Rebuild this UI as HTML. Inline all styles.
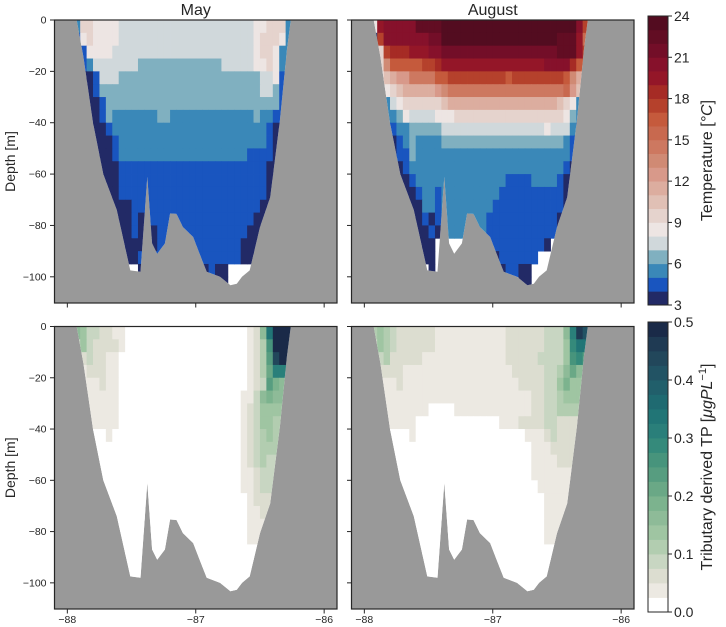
<!DOCTYPE html>
<html><head><meta charset="utf-8">
<style>
html,body{margin:0;padding:0;background:#fff;}
svg{display:block;font-family:"Liberation Sans",Arial,sans-serif;}
</style></head>
<body>
<svg id="fig" width="726" height="627" viewBox="0 0 726 627"></svg>
<script>
// ---- data ----
const R=(c,n)=>c.repeat(n);
const bathyLon = [-87.927,-87.875,-87.80,-87.72,-87.615,-87.51,-87.43,-87.377,-87.34,-87.30,-87.24,-87.20,-87.15,-87.10,-87.02,-86.97,-86.915,-86.81,-86.73,-86.68,-86.64,-86.58,-86.50,-86.42,-86.345,-86.29,-86.26];
const bathyDepth = [0,-14.3,-40,-60,-74,-97.5,-98,-61,-87,-91,-87,-75.3,-75.5,-80.6,-84.5,-91,-98,-100,-103.3,-102.7,-100,-97.5,-80.6,-69,-39,-11.7,0];
const gridLon0 = -87.95, gridDLon = 0.05, gridDDepth = 5;
const tempColors = ["#222a66","#1955bf","#3a88b8","#80b0c0","#d0d8db","#ede5e3","#e5d3cd","#e0c0b5","#dcad9f","#d8998a","#d08a74","#cd7860","#c8694f","#c55a3c","#b5412c","#a62b25","#941628","#86112b","#730e28","#620d23","#530c20"];
const tempTicks = [3,6,9,12,15,18,21,24];
const tpColors = ["#ffffff","#ece9e2","#dcddd0","#c8d6c2","#b2cdb0","#9fc5a2","#8ebb98","#7cb38e","#6aa886","#579d80","#47947c","#358a7b","#2a7f7a","#217576","#1f6a71","#215f6b","#225364","#22475b","#1f3a53","#1a2a48"];
const tpTicks = ["0.0","0.1","0.2","0.3","0.4","0.5"];
const xTicks = [-88,-87,-86];
const yTicks = [0,-20,-40,-60,-80,-100];
const tempMay = [
"2665555"+R("4",21)+"556662",
"1565555"+R("4",21)+"566652",
"115555"+R("4",22)+"566522",
"112"+R("4",7)+R("3",13)+R("4",5)+"556522",
"0001444"+R("3",22)+"44511",
"0001"+R("3",25)+"44311",
"00001"+R("3",27)+"11",
"000013"+R("2",7)+"33"+R("2",13)+"322111",
"000001"+R("2",24)+"1000",
"0000001"+R("2",23)+"1000",
"0000001"+R("2",20)+"1111000",
R("0",7)+R("1",23)+"0000",
R("0",7)+R("1",23)+"0000",
R("0",7)+R("1",23)+"0000",
R("0",9)+R("1",20)+R("0",5),
R("0",9)+"101"+R("1",16)+R("0",6),
R("0",9)+"1000"+R("1",14)+R("0",7),
R("0",13)+R("1",13)+R("0",8),
R("0",10)+R("1",16)+R("0",8),
R(".",10)+R("0",10)+"0100"+R(".",10),
R(".",22)+"00"+R(".",10)
];
const tempAug = [
"5ghhhhhjjjj"+R("k",21)+"he",
"0e"+R("h",7)+"ii"+R("k",18)+"jjjgc",
"16efffggghh"+R("i",18)+"jjjge",
"16addddd"+"eef"+R("g",16)+"hhhhfdd",
"557899bbbbdd"+R("e",9)+"d"+R("e",8)+"da86",
"2256788888"+"9a"+R("b",18)+"c976",
"22245"+R("6",6)+"7"+R("8",17)+"76522",
"222235"+R("4",4)+"555"+R("6",17)+"5322",
"111122"+R("3",5)+R("4",16)+"5444211",
"0000123"+R("2",4)+R("3",19)+"2111",
"0000113"+R("2",24)+"100",
"000001"+R("2",24)+"1000",
"0000001"+R("2",14)+"1111"+"2222"+"1"+"0000",
R("0",7)+"1221"+R("2",9)+R("1",10)+"0000",
R("0",8)+"221"+R("2",8)+R("1",11)+"0000",
R("0",8)+"1012"+R("2",6)+R("1",11)+R("0",5),
R("0",9)+"10"+R("2",7)+R("1",11)+R("0",5),
R("0",10)+R(".",8)+R("1",9)+"0"+R(".",6),
R("0",10)+R(".",9)+"0"+R("1",6)+R(".",8),
R(".",9)+"0"+R(".",10)+"01100"+R(".",9),
R(".",23)+"00"+R(".",9)
];
const tpMay = [
"65332211"+R("0",19)+"126djjj",
"35322221"+R("0",19)+"124ajjj",
"2232211"+R("0",20)+"1249hjj",
"1122211"+R("0",20)+"1248ccc",
"1111211"+R("0",20)+"1239766",
R("1",7)+R("0",19)+"11367666",
R("1",7)+R("0",19)+"12355555",
R("1",7)+R("0",19)+"12355444",
"000001"+R("0",20)+"12345444",
R("0",26)+"12344444",
R("0",26)+"12343333",
R("0",26)+"11233333",
R("0",26)+"11233333",
R("0",27)+"1222222",
R("0",27)+"1122222",
R("0",27)+R("1",7),
R("0",27)+R("1",7),
R("0",34),R("0",34),R("0",34),R("0",34)
];
const tpAug = [
"4543222222"+R("1",11)+R("2",6)+"3336cig",
"3543"+R("2",6)+R("1",11)+R("2",6)+"3335bdd",
"23422222"+R("1",13)+R("2",5)+"33335ab9",
"22222"+R("1",17)+R("2",5)+"3346866",
"11112"+R("1",18)+"2222"+"3357555",
R("1",25)+"223345555",
R("1",9)+"0000"+R("1",12)+"223344444",
R("1",7)+R("0",13)+"111"+"2222"+"33"+"22222",
R("0",6)+"1"+R("0",17)+"111"+"23"+"22222",
R("0",25)+"111"+R("2",6),
R("0",25)+"1111"+R("2",5),
R("0",25)+R("1",9),
R("0",26)+R("1",8),
R("0",27)+R("1",7),
R("0",27)+R("1",7),
R("0",27)+R("1",7),
R("0",27)+R("1",7),
R("0",34),R("0",34),R("0",34),R("0",34)
];
// ---- layout ----
const NS = "http://www.w3.org/2000/svg";
const svg = document.getElementById('fig');
function mk(tag, attrs, parent){const e=document.createElementNS(NS,tag);for(const k in attrs)e.setAttribute(k,attrs[k]);(parent||svg).appendChild(e);return e;}
const xmin=-88.1, xmax=-85.9, ymin=-110.2, ymax=0;
const panels=[
 {x:54.5,y:20,w:282.5,h:283,grid:tempMay,cols:tempColors,name:'panel-may-temperature',title:'May',ylab:true,xlab:false},
 {x:351.5,y:20,w:282.5,h:283,grid:tempAug,cols:tempColors,name:'panel-august-temperature',title:'August',ylab:false,xlab:false},
 {x:54.5,y:326.5,w:282.5,h:282.5,grid:tpMay,cols:tpColors,name:'panel-may-tp',ylab:true,xlab:true},
 {x:351.5,y:326.5,w:282.5,h:282.5,grid:tpAug,cols:tpColors,name:'panel-august-tp',ylab:false,xlab:true}
];
const defs = mk('defs',{});
panels.forEach((p,pi)=>{
  const xs=v=>p.x+(v-xmin)/(xmax-xmin)*p.w;
  const ys=v=>p.y+(ymax-v)/(ymax-ymin)*p.h;
  const g=mk('g',{});
  
  
  const bg=mk('rect',{x:p.x,y:p.y,width:p.w,height:p.h,fill:'#999999'},g);
  
  
  let pts=bathyLon.map((l,i)=>xs(l).toFixed(1)+','+ys(bathyDepth[i]).toFixed(1)).join(' ');
  const cp=mk('clipPath',{id:'water'+pi},defs);
  mk('polygon',{points:pts},cp);
  const water=mk('polygon',{points:pts,fill:'#ffffff'},g);
  
  
  const cg=mk('g',{'clip-path':'url(#water'+pi+')'},g);
  p.grid.forEach((row,i)=>{
    for(let j=0;j<row.length;j++){
      const c=row[j]; if(c==='.')continue;
      const k=parseInt(c,36); if(isNaN(k))continue;
      const x0=xs(gridLon0+gridDLon*j), x1=xs(gridLon0+gridDLon*(j+1));
      const y0=ys(-gridDDepth*i), y1=ys(-gridDDepth*(i+1));
      const r=mk('rect',{x:x0.toFixed(2),y:y0.toFixed(2),width:(x1-x0+0.4).toFixed(2),height:(y1-y0+0.4).toFixed(2),fill:p.cols[Math.min(k,p.cols.length-1)]},cg);
      
      
    }
  });
  const fr=mk('rect',{x:p.x,y:p.y,width:p.w,height:p.h,fill:'none',stroke:'#262626','stroke-width':1.2},g);
  
  
  yTicks.forEach(t=>{
    const y=ys(t);
    mk('line',{x1:p.x-4.5,x2:p.x,y1:y,y2:y,stroke:'#262626','stroke-width':1},g);
    if(p.ylab){
      const tx=mk('text',{x:p.x-8,y:y+3.5,'font-size':10.5,'text-anchor':'end',fill:'#262626'},g);
      tx.textContent=t===0?'0':'\u2212'+Math.abs(t);
      
      
    }
  });
  xTicks.forEach(t=>{
    const x=xs(t);
    mk('line',{x1:x,x2:x,y1:p.y+p.h,y2:p.y+p.h+4.5,stroke:'#262626','stroke-width':1},g);
    if(p.xlab){
      const tx=mk('text',{x:x,y:p.y+p.h+14,'font-size':10.5,'text-anchor':'middle',fill:'#262626'},g);
      tx.textContent='\u2212'+Math.abs(t);
      
      
    }
  });
  if(p.title){
    const tt=mk('text',{x:p.x+p.w/2,y:p.y-5,'font-size':16,'text-anchor':'middle',fill:'#262626'},g);
    tt.textContent=p.title;
    
    
  }
  if(p.ylab){
    const cy=p.y+p.h/2;
    const yl=mk('text',{x:0,y:0,'font-size':14,'text-anchor':'middle',fill:'#262626',transform:'translate(15,'+cy+') rotate(-90)'},g);
    yl.textContent='Depth [m]';
    
    
  }
});
// ---- colorbars ----
function colorbar(x,y,w,h,colors,vmin,vmax,ticks,labels,name,titleHtml){
  const g=mk('g',{});
  
  
  const n=colors.length;
  colors.forEach((c,i)=>{
    const y1=y+h-(i+1)*h/n;
    const r=mk('rect',{x:x,y:y1.toFixed(2),width:w,height:(h/n+0.4).toFixed(2),fill:c},g);
    
    
  });
  mk('rect',{x:x,y:y,width:w,height:h,fill:'none',stroke:'#262626','stroke-width':1},g);
  ticks.forEach((t,i)=>{
    const ty=y+h-(t-vmin)/(vmax-vmin)*h;
    mk('line',{x1:x+w,x2:x+w+4,y1:ty,y2:ty,stroke:'#262626'},g);
    const tx=mk('text',{x:x+w+6,y:ty+5,'font-size':14,fill:'#262626'},g);
    tx.textContent=labels[i];
    
    
  });
  const lt=mk('text',{x:0,y:0,'font-size':16,'text-anchor':'middle',fill:'#262626',transform:'translate(712,'+(y+h/2)+') rotate(-90)'},g);
  lt.innerHTML=titleHtml;
  
  
}
colorbar(648,16,20,289,tempColors,3,24,tempTicks,tempTicks.map(String),'temperature-colorbar','Temperature [<tspan font-style="italic">°C</tspan>]');
colorbar(648,322,20,290,tpColors,0,0.5,tpTicks.map(Number),tpTicks,'tp-colorbar','Tributary derived TP [<tspan font-style="italic">μgPL</tspan><tspan dy="-6" font-size="11">−1</tspan><tspan dy="6">]</tspan>');
</script>
</body></html>
